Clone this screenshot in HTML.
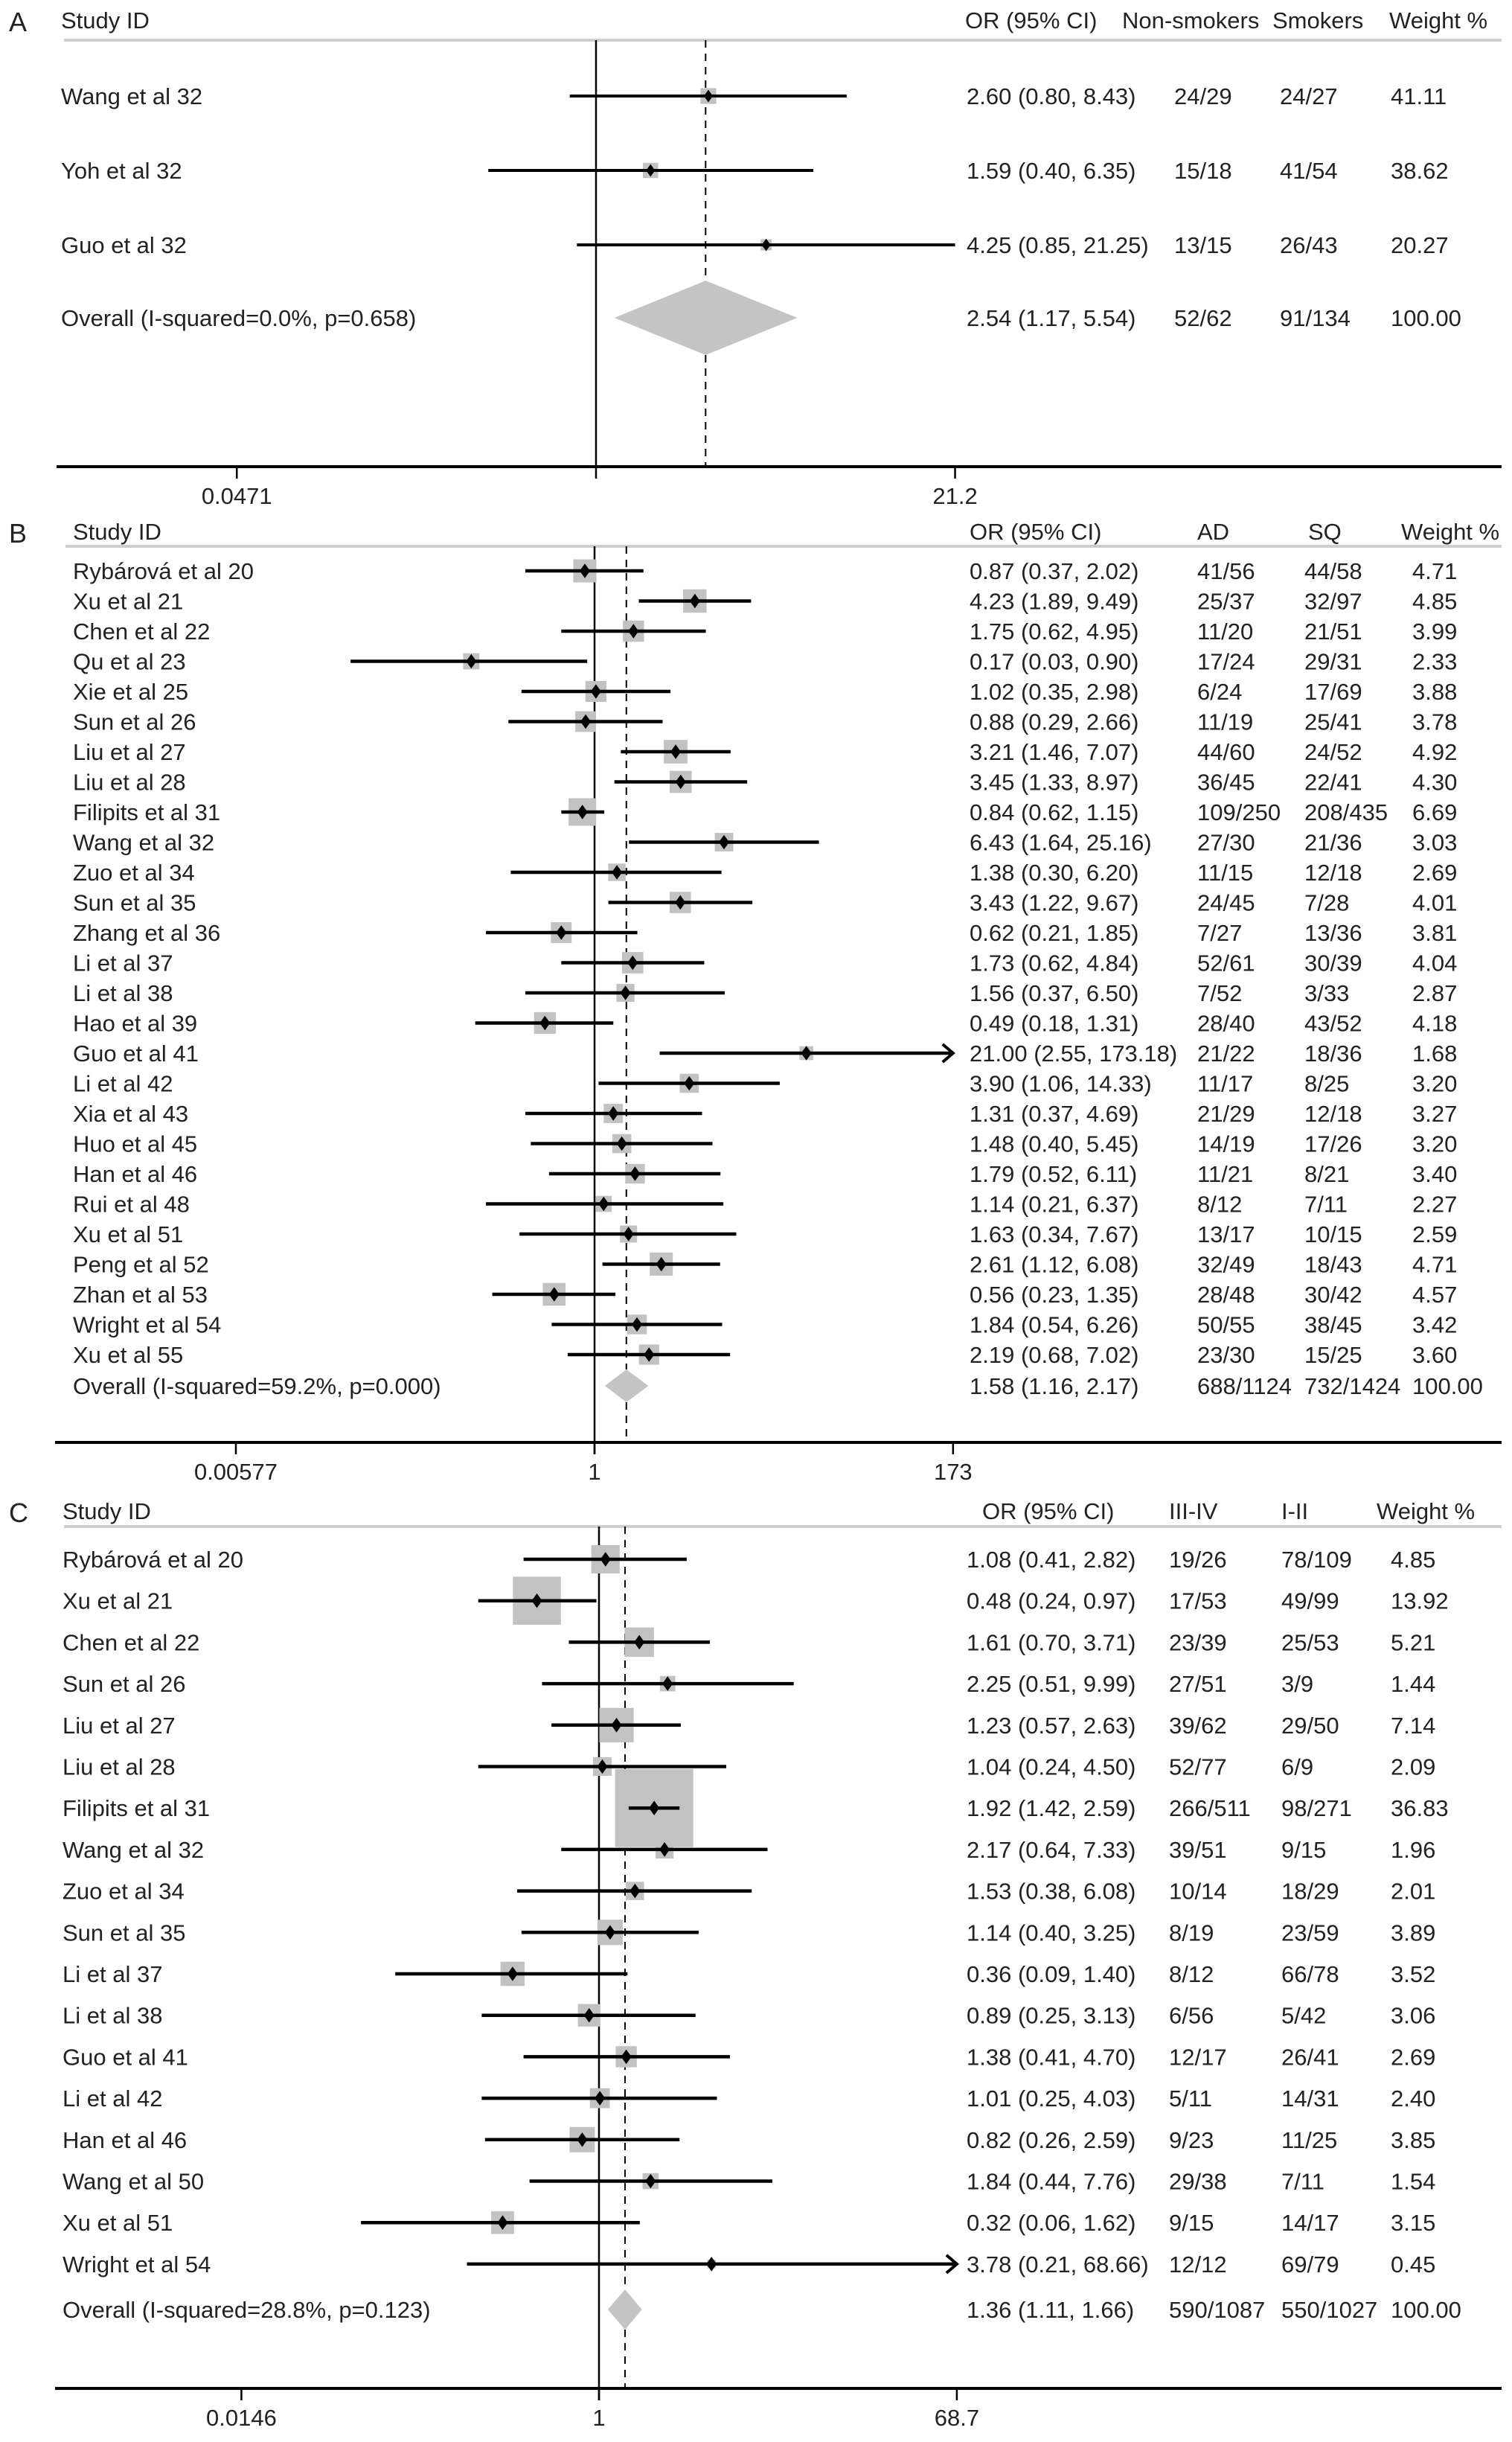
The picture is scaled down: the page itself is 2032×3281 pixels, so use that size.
<!DOCTYPE html>
<html><head><meta charset="utf-8"><style>
html,body{margin:0;padding:0;background:#fff}
svg{display:block}
text{font-family:"Liberation Sans",sans-serif;fill:#222}
</style></head><body>
<svg id="fig" width="2032" height="3281" viewBox="0 0 2032 3281" xmlns="http://www.w3.org/2000/svg"></svg>
<script>
// ---- Panel A data ----
const aStudies = ["Wang et al 32","Yoh et al 32","Guo et al 32"];
const aOR = [2.60,1.59,4.25];
const aLo = [0.80,0.40,0.85];
const aHi = [8.43,6.35,21.25];
const aG1 = ["24/29","15/18","13/15"];
const aG2 = ["24/27","41/54","26/43"];
const aW = [41.11,38.62,20.27];
const aOverall = [2.54,1.17,5.54];
const aOverallText = ["Overall (I-squared=0.0%, p=0.658)","2.54 (1.17, 5.54)","52/62","91/134","100.00"];
const aTicks = [0.0471,21.2];
const aTickLabels = ["0.0471","21.2"];
const aHeaders = ["OR (95% CI)","Non-smokers","Smokers","Weight %"];

// ---- Panel B data ----
const bStudies = ["Rybárová et al 20","Xu et al 21","Chen et al 22","Qu et al 23","Xie et al 25","Sun et al 26","Liu et al 27","Liu et al 28","Filipits et al 31","Wang et al 32","Zuo et al 34","Sun et al 35","Zhang et al 36","Li et al 37","Li et al 38","Hao et al 39","Guo et al 41","Li et al 42","Xia et al 43","Huo et al 45","Han et al 46","Rui et al 48","Xu et al 51","Peng et al 52","Zhan et al 53","Wright et al 54","Xu et al 55"];
const bOR = [0.87,4.23,1.75,0.17,1.02,0.88,3.21,3.45,0.84,6.43,1.38,3.43,0.62,1.73,1.56,0.49,21.00,3.90,1.31,1.48,1.79,1.14,1.63,2.61,0.56,1.84,2.19];
const bLo = [0.37,1.89,0.62,0.03,0.35,0.29,1.46,1.33,0.62,1.64,0.30,1.22,0.21,0.62,0.37,0.18,2.55,1.06,0.37,0.40,0.52,0.21,0.34,1.12,0.23,0.54,0.68];
const bHi = [2.02,9.49,4.95,0.90,2.98,2.66,7.07,8.97,1.15,25.16,6.20,9.67,1.85,4.84,6.50,1.31,173.18,14.33,4.69,5.45,6.11,6.37,7.67,6.08,1.35,6.26,7.02];
const bG1 = ["41/56","25/37","11/20","17/24","6/24","11/19","44/60","36/45","109/250","27/30","11/15","24/45","7/27","52/61","7/52","28/40","21/22","11/17","21/29","14/19","11/21","8/12","13/17","32/49","28/48","50/55","23/30"];
const bG2 = ["44/58","32/97","21/51","29/31","17/69","25/41","24/52","22/41","208/435","21/36","12/18","7/28","13/36","30/39","3/33","43/52","18/36","8/25","12/18","17/26","8/21","7/11","10/15","18/43","30/42","38/45","15/25"];
const bW = [4.71,4.85,3.99,2.33,3.88,3.78,4.92,4.30,6.69,3.03,2.69,4.01,3.81,4.04,2.87,4.18,1.68,3.20,3.27,3.20,3.40,2.27,2.59,4.71,4.57,3.42,3.60];
const bOverall = [1.58,1.16,2.17];
const bOverallText = ["Overall (I-squared=59.2%, p=0.000)","1.58 (1.16, 2.17)","688/1124","732/1424","100.00"];
const bTicks = [0.00577,1,173];
const bTickLabels = ["0.00577","1","173"];
const bHeaders = ["OR (95% CI)","AD","SQ","Weight %"];

// ---- Panel C data ----
const cStudies = ["Rybárová et al 20","Xu et al 21","Chen et al 22","Sun et al 26","Liu et al 27","Liu et al 28","Filipits et al 31","Wang et al 32","Zuo et al 34","Sun et al 35","Li et al 37","Li et al 38","Guo et al 41","Li et al 42","Han et al 46","Wang et al 50","Xu et al 51","Wright et al 54"];
const cOR = [1.08,0.48,1.61,2.25,1.23,1.04,1.92,2.17,1.53,1.14,0.36,0.89,1.38,1.01,0.82,1.84,0.32,3.78];
const cLo = [0.41,0.24,0.70,0.51,0.57,0.24,1.42,0.64,0.38,0.40,0.09,0.25,0.41,0.25,0.26,0.44,0.06,0.21];
const cHi = [2.82,0.97,3.71,9.99,2.63,4.50,2.59,7.33,6.08,3.25,1.40,3.13,4.70,4.03,2.59,7.76,1.62,68.66];
const cG1 = ["19/26","17/53","23/39","27/51","39/62","52/77","266/511","39/51","10/14","8/19","8/12","6/56","12/17","5/11","9/23","29/38","9/15","12/12"];
const cG2 = ["78/109","49/99","25/53","3/9","29/50","6/9","98/271","9/15","18/29","23/59","66/78","5/42","26/41","14/31","11/25","7/11","14/17","69/79"];
const cW = [4.85,13.92,5.21,1.44,7.14,2.09,36.83,1.96,2.01,3.89,3.52,3.06,2.69,2.40,3.85,1.54,3.15,0.45];
const cOverall = [1.36,1.11,1.66];
const cOverallText = ["Overall (I-squared=28.8%, p=0.123)","1.36 (1.11, 1.66)","590/1087","550/1027","100.00"];
const cTicks = [0.0146,1,68.7];
const cTickLabels = ["0.0146","1","68.7"];
const cHeaders = ["OR (95% CI)","III-IV","I-II","Weight %"];

const NS = "http://www.w3.org/2000/svg";
const svg = document.getElementById('fig');
function mk(tag, attrs, parent){
  const e = document.createElementNS(NS, tag);
  for (const k in attrs) e.setAttribute(k, attrs[k]);
  (parent||svg).appendChild(e);
  return e;
}
function txt(s, x, y, size, parent, anchor){
  const t = mk('text', {x:x, y:y, 'font-size':size, 'text-anchor':anchor||'start'}, parent);
  t.textContent = s;
  return t;
}

function panel(cfg){
  const g = mk('g', {});
  
  
  const X = v => cfg.cx + Math.log(v) * cfg.k;
  const maxV = cfg.ticks[cfg.ticks.length-1];
  const xMax = X(maxV);
  const fs = 31;
  const pl = txt(cfg.id.toUpperCase(), 12, cfg.headY + 4, 36, g);
  
  
  const sh = txt('Study ID', cfg.labelX, cfg.headY, fs, g);
  
  
  cfg.headers.forEach((h, i) => {
    const t = txt(h, cfg.colHX[i], cfg.headY, fs, g);
    
    
  });
  const hr = mk('line', {x1:cfg.ruleX1, x2:2018, y1:cfg.lineY, y2:cfg.lineY, stroke:'#cfcfcf', 'stroke-width':4}, g);
  
  
  const nl = mk('line', {x1:X(1), x2:X(1), y1:cfg.lineY, y2:cfg.axisY + 16, stroke:'#000', 'stroke-width':2.5}, g);
  
  
  const ox = X(cfg.overall[0]);
  const d1 = mk('line', {x1:ox, x2:ox, y1:cfg.lineY, y2:cfg.overallY - cfg.dh, stroke:'#000', 'stroke-width':2, 'stroke-dasharray':'10,8'}, g);
  
  
  const d2 = mk('line', {x1:ox, x2:ox, y1:cfg.overallY + cfg.dh, y2:cfg.axisY, stroke:'#000', 'stroke-width':2, 'stroke-dasharray':'10,8'}, g);
  
  
  cfg.studies.forEach((s, i) => {
    const y = cfg.row0 + i * cfg.rowH;
    const row = mk('g', {}, g);
    
    
    const side = cfg.boxK * Math.sqrt(cfg.w[i]);
    const bx = mk('rect', {x:X(cfg.or[i]) - side/2, y:y - side/2, width:side, height:side, fill:'#c2c2c2'}, row);
    
    
    const hiClipped = cfg.hi[i] >= maxV * 0.99;
    const x2 = hiClipped ? xMax : X(cfg.hi[i]);
    const ci = mk('line', {x1:X(cfg.lo[i]), x2:x2, y1:y, y2:y, stroke:'#000', 'stroke-width':cfg.ciW}, row);
    
    
    if (hiClipped && cfg.arrows) {
      const ar = mk('polyline', {points:(x2-14)+','+(y-12)+' '+x2+','+y+' '+(x2-14)+','+(y+12), fill:'none', stroke:'#000', 'stroke-width':4}, row);
      
      
    }
    const px = X(cfg.or[i]), r = cfg.ptR;
    const pt = mk('polygon', {points:px+','+(y-r*1.4)+' '+(px+r)+','+y+' '+px+','+(y+r*1.4)+' '+(px-r)+','+y, fill:'#000'}, row);
    
    
    const ty = y + 11;
    const lab = txt(s, cfg.labelX, ty, fs, row);
    
    
    const vals = [cfg.or[i].toFixed(2)+' ('+cfg.lo[i].toFixed(2)+', '+cfg.hi[i].toFixed(2)+')', cfg.g1[i], cfg.g2[i], cfg.w[i].toFixed(2)];
    vals.forEach((v, j) => {
      const t = txt(v, cfg.colX[j], ty, fs, row);
      
      
    });
  });
  const oy = cfg.overallY;
  const dm = mk('polygon', {points:X(cfg.overall[1])+','+oy+' '+ox+','+(oy-cfg.dh)+' '+X(cfg.overall[2])+','+oy+' '+ox+','+(oy+cfg.dh), fill:'#c4c4c4'}, g);
  
  
  const ot = txt(cfg.overallText[0], cfg.labelX, oy + 11, fs, g);
  
  
  for (let j = 1; j < 5; j++) {
    const t = txt(cfg.overallText[j], cfg.colX[j-1], oy + 11, fs, g);
    
    
  }
  const ax = mk('line', {x1:cfg.axisX1, x2:2018, y1:cfg.axisY, y2:cfg.axisY, stroke:'#000', 'stroke-width':4}, g);
  
  
  cfg.ticks.forEach((t, i) => {
    const tx = X(t);
    const tk = mk('line', {x1:tx, x2:tx, y1:cfg.axisY, y2:cfg.axisY + 16, stroke:'#000', 'stroke-width':2.5}, g);
    
    
    const tl = txt(cfg.tickLabels[i], tx, cfg.axisY + 50, fs, g, 'middle');
    
    
  });
}

panel({id:'a', cx:801, k:158, headY:38, lineY:54, labelX:82, colHX:[1297,1508,1710,1867], colX:[1299,1578,1720,1869],
  headers:aHeaders, studies:aStudies, or:aOR, lo:aLo, hi:aHi, g1:aG1, g2:aG2, w:aW, overall:aOverall, overallText:aOverallText,
  ticks:aTicks, tickLabels:aTickLabels, row0:129, rowH:100, overallY:427, dh:50, axisY:627, ruleX1:86, axisX1:76,
  boxK:3.3, ciW:4, ptR:6, arrows:false});

panel({id:'b', cx:799, k:93.5, headY:725, lineY:734, labelX:98, colHX:[1303,1609,1758,1883], colX:[1303,1609,1753,1898],
  headers:bHeaders, studies:bStudies, or:bOR, lo:bLo, hi:bHi, g1:bG1, g2:bG2, w:bW, overall:bOverall, overallText:bOverallText,
  ticks:bTicks, tickLabels:bTickLabels, row0:767, rowH:40.5, overallY:1862, dh:22, axisY:1938, ruleX1:88, axisX1:74,
  boxK:14.3, ciW:4.5, ptR:7, arrows:true});

panel({id:'c', cx:805, k:113.7, headY:2041, lineY:2051, labelX:84, colHX:[1320,1571,1722,1850], colX:[1299,1571,1722,1869],
  headers:cHeaders, studies:cStudies, or:cOR, lo:cLo, hi:cHi, g1:cG1, g2:cG2, w:cW, overall:cOverall, overallText:cOverallText,
  ticks:cTicks, tickLabels:cTickLabels, row0:2095, rowH:55.7, overallY:3103, dh:27, axisY:3209, ruleX1:86, axisX1:74,
  boxK:17.3, ciW:4.5, ptR:7, arrows:true});
</script>
</body></html>
